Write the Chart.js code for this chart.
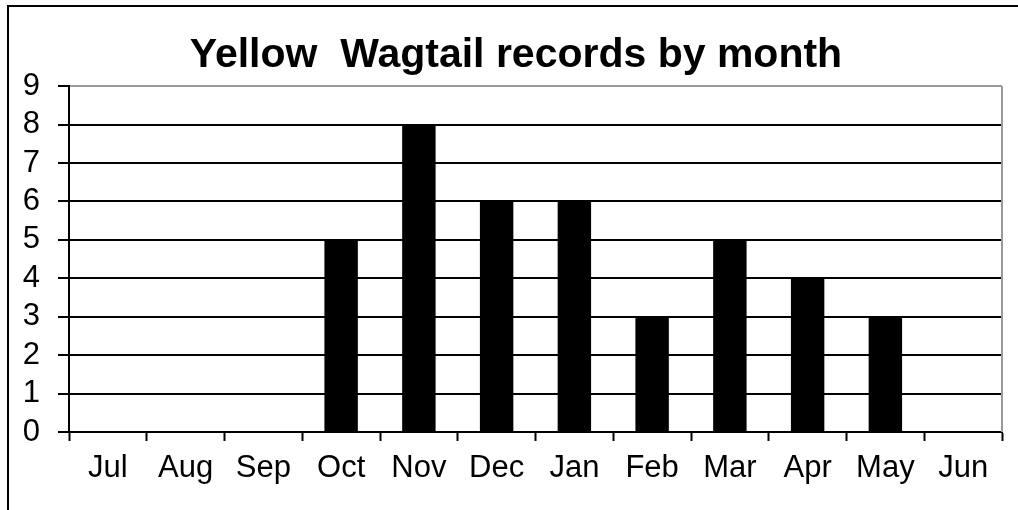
<!DOCTYPE html>
<html>
<head>
<meta charset="utf-8">
<script src="https://cdn.jsdelivr.net/npm/chart.js@4/dist/chart.umd.min.js"></script>
<style>
  html, body { margin: 0; padding: 0; background: #fff; }
  #wrap { position: absolute; left: 0; top: 0; width: 1018px; height: 510px; }
</style>
</head>
<body>
<div id="wrap"><canvas id="c" width="1018" height="510"></canvas></div>
<script>
const chartTitle = "Yellow  Wagtail records by month";
const months = ["Jul", "Aug", "Sep", "Oct", "Nov", "Dec", "Jan", "Feb", "Mar", "Apr", "May", "Jun"];
const records = [0, 0, 0, 5, 8, 6, 6, 3, 5, 4, 3, 0];
const yTicks = [0, 1, 2, 3, 4, 5, 6, 7, 8, 9];

const FONT = "'Liberation Sans', Arial, sans-serif";

const frame = {
  id: 'frame',
  afterLayout(chart) {
    const t = chart.titleBlock;
    if (t) {
      t.left = 30;
      t.right = 1002;
      t.width = t.right - t.left;
    }
  },
  beforeDraw(chart) {
    const ctx = chart.ctx;
    ctx.save();
    ctx.fillStyle = '#fff';
    ctx.fillRect(0, 0, chart.width, chart.height);
    ctx.fillStyle = '#000';
    ctx.fillRect(7, 5, 2, chart.height - 5);
    ctx.fillRect(7, 5, chart.width - 7, 2);
    ctx.restore();
  },
  afterDraw(chart) {
    const a = chart.chartArea;
    const ctx = chart.ctx;
    ctx.save();
    ctx.strokeStyle = '#9a9a9a';
    ctx.lineWidth = 2;
    ctx.beginPath();
    ctx.moveTo(a.right, a.top);
    ctx.lineTo(a.right, a.bottom);
    ctx.stroke();
    ctx.restore();
  }
};

new Chart(document.getElementById('c'), {
  type: 'bar',
  data: {
    labels: months,
    datasets: [{
      data: records,
      backgroundColor: '#000',
      borderWidth: 0,
      categoryPercentage: 1,
      barPercentage: 0.43
    }]
  },
  options: {
    responsive: false,
    animation: false,
    events: [],
    layout: { padding: { left: 0, right: 16, top: 0, bottom: 0 } },
    plugins: {
      legend: { display: false },
      tooltip: { enabled: false },
      title: {
        display: true,
        text: chartTitle,
        color: '#000',
        font: { family: FONT, size: 41, weight: 'bold', lineHeight: 1.2 },
        padding: { top: 31, bottom: 6 }
      }
    },
    scales: {
      x: {
        offset: true,
        grid: {
          offset: true,
          display: true,
          drawOnChartArea: false,
          drawTicks: true,
          tickLength: 9,
          tickWidth: 2,
          tickColor: '#000'
        },
        border: { display: true, color: '#000', width: 2 },
        ticks: {
          color: '#000',
          font: { family: FONT, size: 31 },
          padding: 9,
          maxRotation: 0,
          autoSkip: false
        },
        afterFit(scale) { scale.height = 78; }
      },
      y: {
        min: 0,
        max: 9,
        afterBuildTicks(scale) { scale.ticks = yTicks.map(v => ({ value: v })); },
        grid: {
          color: (c) => (c.tick && c.tick.value === 9) ? '#9a9a9a' : '#000',
          lineWidth: 2,
          drawTicks: true,
          tickLength: 11,
          tickWidth: 2,
          tickColor: '#000'
        },
        border: { display: true, color: '#000', width: 2 },
        ticks: {
          color: '#000',
          font: { family: FONT, size: 31 },
          padding: 18,
          autoSkip: false
        },
        afterFit(scale) { scale.width = 69; }
      }
    }
  },
  plugins: [frame]
});
</script>
</body>
</html>
